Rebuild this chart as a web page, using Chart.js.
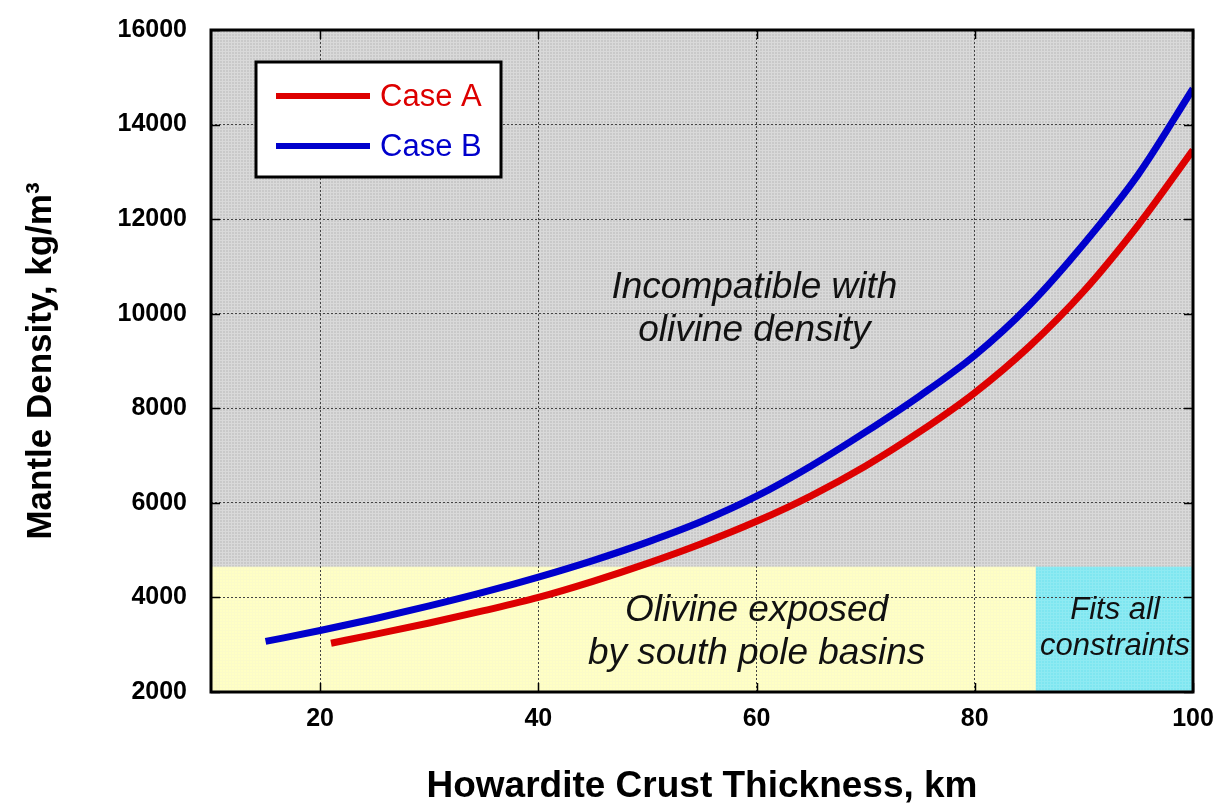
<!DOCTYPE html>
<html lang="en">
<head>
  <meta charset="UTF-8" />
  <title>Mantle Density vs Howardite Crust Thickness</title>
  <script src="https://cdn.jsdelivr.net/npm/chart.js"></script>
  <style>
    html, body { margin: 0; padding: 0; background: #fff; }
  </style>
</head>
<body>
  <canvas id="chart" width="1227" height="806"></canvas>

  <script>
    // Data
    const caseAx = [21, 25, 30, 35, 40, 45, 50, 55, 60, 65, 70, 75, 80, 85, 90, 95, 100];
    const caseAy = [3030, 3220, 3460, 3720, 4000, 4340, 4720, 5140, 5610, 6150, 6780, 7510, 8330, 9310, 10480, 11880, 13460];
    const caseBx = [15, 20, 25, 30, 35, 40, 45, 50, 55, 60, 65, 70, 75, 80, 85, 90, 95, 100];
    const caseBy = [3070, 3300, 3550, 3820, 4110, 4430, 4780, 5170, 5610, 6140, 6780, 7500, 8270, 9120, 10180, 11480, 12950, 14760];

    const xTicks = [20, 40, 60, 80, 100];
    const yTicks = [2000, 4000, 6000, 8000, 10000, 12000, 14000, 16000];

    // shaded regions (data units)
    const olivineTop = 4650;     // top of yellow band
    const fitsLeft = 85.6;       // start of cyan band

    const notes = [
      { x: 59.8, y: [10330, 9420], lines: ['Incompatible with', 'olivine density'], size: 37 },
      { x: 60.0, y: [3500, 2600], lines: ['Olivine exposed', 'by south pole basins'], size: 37 },
      { x: 92.85, y: [3540, 2790], lines: ['Fits all', 'constraints'], size: 31 }
    ];

    const FONT = '"Liberation Sans", Arial, Helvetica, sans-serif';
    const RED = '#dd0000';
    const BLUE = '#0000cc';

    function makePattern(ctx, base, light) {
      const c = document.createElement('canvas');
      c.width = 3; c.height = 3;
      const g = c.getContext('2d');
      g.fillStyle = light;
      g.fillRect(0, 0, 3, 3);
      g.fillStyle = base;
      g.fillRect(1, 1, 2, 2);
      return ctx.createPattern(c, 'repeat');
    }

    const backdrop = {
      id: 'backdrop',
      beforeDraw(chart) {
        const { ctx, chartArea: a, scales: { x, y } } = chart;
        ctx.save();
        ctx.fillStyle = makePattern(ctx, '#c9c9c9', '#d9d9d9');
        ctx.fillRect(a.left, a.top, a.right - a.left, a.bottom - a.top);
        const yTop = y.getPixelForValue(olivineTop);
        const xCut = x.getPixelForValue(fitsLeft);
        ctx.fillStyle = makePattern(ctx, '#ffffc4', '#fbfbc8');
        ctx.fillRect(a.left, yTop, xCut - a.left, a.bottom - yTop);
        ctx.fillStyle = makePattern(ctx, '#7ee6f0', '#8eeaf2');
        ctx.fillRect(xCut, yTop, a.right - xCut, a.bottom - yTop);
        ctx.restore();
      },
      afterDraw(chart) {
        const { ctx, chartArea: a, scales: { x, y } } = chart;
        ctx.save();

        // inward tick marks
        ctx.strokeStyle = '#000';
        ctx.lineWidth = 1.5;
        ctx.beginPath();
        yTicks.forEach(v => {
          const py = Math.round(y.getPixelForValue(v)) + 0.5;
          ctx.moveTo(a.left, py); ctx.lineTo(a.left + 9, py);
          ctx.moveTo(a.right, py); ctx.lineTo(a.right - 9, py);
        });
        xTicks.forEach(v => {
          const px = Math.round(x.getPixelForValue(v)) + 0.5;
          ctx.moveTo(px, a.bottom); ctx.lineTo(px, a.bottom - 9);
          ctx.moveTo(px, a.top); ctx.lineTo(px, a.top + 9);
        });
        ctx.stroke();

        // plot frame
        ctx.lineWidth = 3;
        ctx.strokeRect(a.left, a.top, a.right - a.left, a.bottom - a.top);

        // annotations
        ctx.fillStyle = '#111';
        ctx.textAlign = 'center';
        ctx.textBaseline = 'alphabetic';
        notes.forEach(n => {
          ctx.font = `italic ${n.size}px ${FONT}`;
          n.lines.forEach((t, i) => {
            ctx.fillText(t, x.getPixelForValue(n.x), y.getPixelForValue(n.y[i]));
          });
        });

        // legend box
        const bx = a.left + 45, by = a.top + 32, bw = 245, bh = 115;
        ctx.fillStyle = '#fff';
        ctx.fillRect(bx, by, bw, bh);
        ctx.lineWidth = 3;
        ctx.strokeStyle = '#000';
        ctx.strokeRect(bx, by, bw, bh);
        ctx.font = `31px ${FONT}`;
        ctx.textAlign = 'left';
        ctx.textBaseline = 'middle';
        chart.data.datasets.forEach((ds, i) => {
          const ly = by + 34 + i * 50;
          ctx.strokeStyle = ds.borderColor;
          ctx.lineWidth = 6;
          ctx.beginPath();
          ctx.moveTo(bx + 20, ly);
          ctx.lineTo(bx + 114, ly);
          ctx.stroke();
          ctx.fillStyle = ds.borderColor;
          ctx.fillText(ds.label, bx + 124, ly + 1);
        });
        ctx.restore();
      }
    };

    // keep tick-label overflow from shifting the plot area
    function noOverflow(s) {
      s.paddingTop = 0; s.paddingBottom = 0; s.paddingLeft = 0; s.paddingRight = 0;
    }

    new Chart(document.getElementById('chart'), {
      type: 'line',
      data: {
        datasets: [
          {
            label: 'Case A',
            data: caseAx.map((v, i) => ({ x: v, y: caseAy[i] })),
            borderColor: RED,
            borderWidth: 7,
            pointRadius: 0,
            cubicInterpolationMode: 'monotone',
            fill: false
          },
          {
            label: 'Case B',
            data: caseBx.map((v, i) => ({ x: v, y: caseBy[i] })),
            borderColor: BLUE,
            borderWidth: 7,
            pointRadius: 0,
            cubicInterpolationMode: 'monotone',
            fill: false
          }
        ]
      },
      options: {
        responsive: false,
        animation: false,
        layout: { padding: { top: 30, right: 34, left: 0, bottom: 0 } },
        plugins: {
          legend: { display: false },
          tooltip: { enabled: false }
        },
        scales: {
          x: {
            type: 'linear',
            min: 10,
            max: 100,
            afterBuildTicks: s => { s.ticks = xTicks.map(v => ({ value: v })); },
            afterFit: s => { s.height = 114; noOverflow(s); },
            grid: { color: '#444', lineWidth: 1, drawTicks: false },
            border: { display: false, dash: [2, 2] },
            ticks: {
              color: '#000',
              padding: 12,
              maxRotation: 0,
              font: { family: FONT, size: 25, weight: 'bold' },
              callback: v => String(v)
            },
            title: {
              display: true,
              text: 'Howardite Crust Thickness, km',
              color: '#000',
              font: { family: FONT, size: 37, weight: 'bold', lineHeight: 1 },
              padding: { top: 0, bottom: 1 }
            }
          },
          y: {
            type: 'linear',
            min: 2000,
            max: 16000,
            afterBuildTicks: s => { s.ticks = yTicks.map(v => ({ value: v })); },
            afterFit: s => { s.width = 211; noOverflow(s); },
            grid: { color: '#444', lineWidth: 1, drawTicks: false },
            border: { display: false, dash: [2, 2] },
            ticks: {
              color: '#000',
              padding: 24,
              font: { family: FONT, size: 25, weight: 'bold' },
              callback: v => String(v)
            },
            title: {
              display: true,
              text: 'Mantle Density, kg/m³',
              color: '#000',
              font: { family: FONT, size: 35, weight: 'bold', lineHeight: 1 },
              padding: { top: 24, bottom: 0 }
            }
          }
        }
      },
      plugins: [backdrop]
    });
  </script>
</body>
</html>
